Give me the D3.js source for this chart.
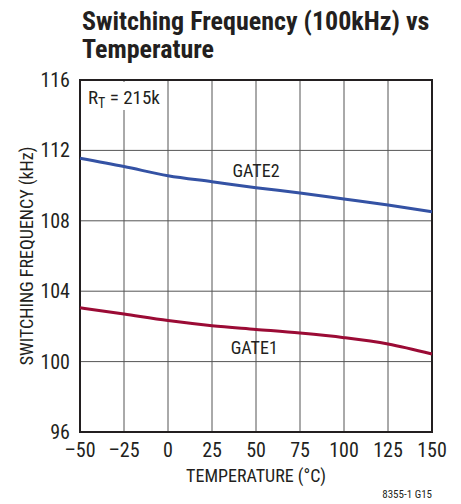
<!DOCTYPE html>
<html>
<head>
<meta charset="utf-8">
<script src="https://cdn.jsdelivr.net/npm/d3@7"></script>
<style>
  body { margin: 0; background: #fff; }
  text { font-family: "Liberation Sans Narrow", "Arial Narrow", "Roboto Condensed", sans-serif; fill: #231f20; }
</style>
</head>
<body>
<script>
const width = 461;
const height = 504;

// temperatures (°C) and frequencies (kHz)
const temps = [-50, -25, 0, 25, 50, 75, 100, 125, 150];
const gate2 = [111.55, 111.08, 110.56, 110.22, 109.88, 109.58, 109.24, 108.9, 108.52];
const gate1 = [103.06, 102.7, 102.33, 102.04, 101.83, 101.62, 101.36, 101.0, 100.43];

const xTicks = [-50, -25, 0, 25, 50, 75, 100, 125, 150];
const yTicks = [96, 100, 104, 108, 112, 116];

const margin = {top: 80, right: 29, bottom: 72, left: 80};

const svg = d3.select("body").append("svg")
  .attr("width", width)
  .attr("height", height);

const x = d3.scaleLinear().domain([-50, 150]).range([margin.left, width - margin.right]);
const y = d3.scaleLinear().domain([96, 116]).range([height - margin.bottom, margin.top]);

// title
const title = svg.append("g");
title.append("text").attr("x", 82).attr("y", 30)
  .style("font-weight", "bold").style("font-size", "26px")
  .text("Switching Frequency (100kHz) vs");
title.append("text").attr("x", 82).attr("y", 58)
  .style("font-weight", "bold").style("font-size", "26px")
  .text("Temperature");

// grid
svg.append("g")
  .selectAll("line")
  .data(xTicks.slice(1, -1))
  .enter()
  .append("line")
  .attr("x1", d => x(d)).attr("x2", d => x(d))
  .attr("y1", y(116)).attr("y2", y(96))
  .attr("stroke", "#555").attr("stroke-width", 1);

svg.append("g")
  .selectAll("line")
  .data(yTicks.slice(1, -1))
  .enter()
  .append("line")
  .attr("x1", x(-50)).attr("x2", x(150))
  .attr("y1", d => y(d)).attr("y2", d => y(d))
  .attr("stroke", "#555").attr("stroke-width", 1);

// frame
svg.append("rect")
  .attr("x", x(-50)).attr("y", y(116))
  .attr("width", x(150) - x(-50)).attr("height", y(96) - y(116))
  .attr("fill", "none").attr("stroke", "#231f20").attr("stroke-width", 2);

// tick labels
svg.append("g")
  .selectAll("text")
  .data(yTicks)
  .enter()
  .append("text")
  .attr("x", 70).attr("y", d => y(d) + 7)
  .attr("text-anchor", "end")
  .attr("font-size", 20)
  .text(d => d);

svg.append("g")
  .selectAll("text")
  .data(xTicks)
  .enter()
  .append("text")
  .attr("x", d => x(d)).attr("y", 457)
  .attr("text-anchor", "middle")
  .attr("font-size", 20)
  .text(d => d < 0 ? "\u2013" + Math.abs(d) : d);

// axis titles
svg.append("text")
  .attr("x", x(50)).attr("y", 482)
  .attr("text-anchor", "middle")
  .attr("font-size", 18)
  .text("TEMPERATURE (°C)");

svg.append("text")
  .attr("transform", `translate(33, ${y(106)}) rotate(-90)`)
  .attr("text-anchor", "middle")
  .attr("font-size", 18)
  .text("SWITCHING FREQUENCY (kHz)");

// R_T label with white backing
svg.append("rect")
  .attr("x", 82).attr("y", 82).attr("width", 82).attr("height", 28)
  .attr("fill", "#fff");
const rt = svg.append("text").attr("x", 88).attr("y", 104).attr("font-size", 19);
rt.append("tspan").text("R");
rt.append("tspan").attr("dy", 4).attr("font-size", 14).text("T");
rt.append("tspan").attr("dy", -4).text(" = 215k");

// curves
const line = d3.line()
  .curve(d3.curveMonotoneX)
  .x((d, i) => x(temps[i]))
  .y(d => y(d));

svg.append("path")
  .attr("d", line(gate2))
  .attr("fill", "none")
  .attr("stroke", "#3452a4")
  .attr("stroke-width", 3);

svg.append("path")
  .attr("d", line(gate1))
  .attr("fill", "none")
  .attr("stroke", "#9b0b35")
  .attr("stroke-width", 3);

// curve labels
svg.append("text").attr("x", x(50)).attr("y", 177)
  .attr("text-anchor", "middle").attr("font-size", 18).text("GATE2");
svg.append("text").attr("x", x(49)).attr("y", 354)
  .attr("text-anchor", "middle").attr("font-size", 18).text("GATE1");

// figure code
svg.append("text").attr("x", 432).attr("y", 498)
  .attr("text-anchor", "end").attr("font-size", 11).text("8355-1 G15");
</script>
</body>
</html>
